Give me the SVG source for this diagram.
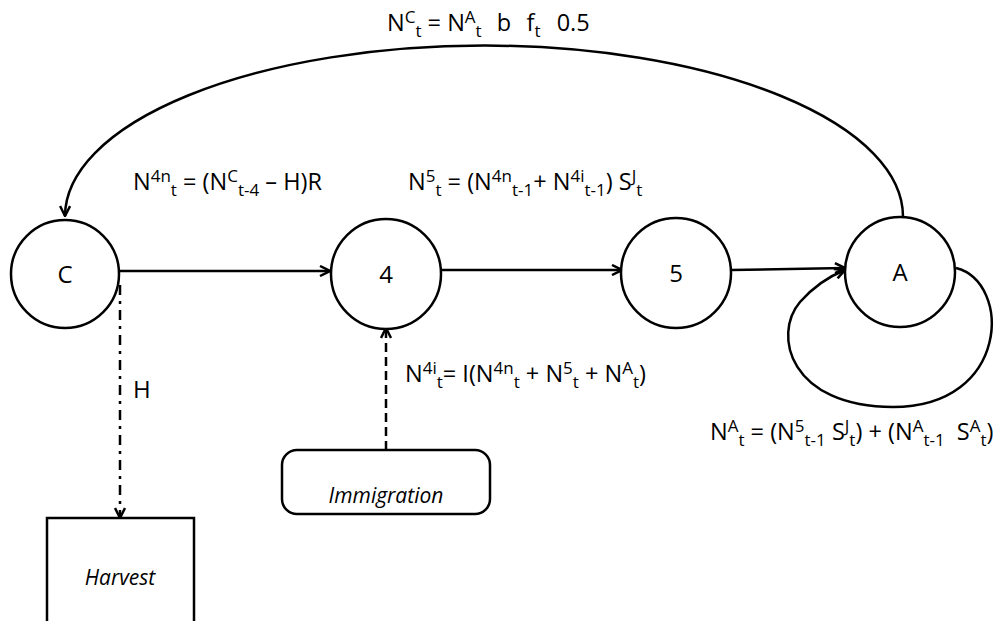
<svg xmlns="http://www.w3.org/2000/svg" width="997" height="621" viewBox="0 0 997 621">
<style>
  .node{fill:#fff;stroke:#000;stroke-width:2.5}
  .lbl{font-family:"Open Sans","Liberation Sans",sans-serif;font-size:23.5px;fill:#000;white-space:pre}
  .nl{font-size:24px}
  .bx{font-size:21px;font-style:italic}
  .sup{font-size:17px;baseline-shift:8px}
  .sub{font-size:17px;baseline-shift:-6px}
  .edge{fill:none;stroke:#000;stroke-width:2.5}
</style>
<defs>
  <marker id="arr" viewBox="0 0 12 12" refX="11" refY="6" markerWidth="12" markerHeight="12" markerUnits="userSpaceOnUse" orient="auto">
    <path d="M1,1 L11,6 L1,11" fill="none" stroke="#000" stroke-width="2.5"/>
  </marker>
</defs>
<rect width="997" height="621" fill="#fff"/>
<g id="connectors">
  <path class="edge" d="M120,271 L330,271" marker-end="url(#arr)"/>
  <path class="edge" d="M441,270 L622,270" marker-end="url(#arr)"/>
  <path class="edge" d="M731,270 L845,268" marker-end="url(#arr)"/>
  <path class="edge" d="M903,217 A419,171 0 0 0 65,216" marker-end="url(#arr)"/>
  <path class="edge" d="M956,268 C1012,282 1010,407 893,407 C790,407 772,335 800,302 C815,285 830,276 845,270" marker-end="url(#arr)"/>
  <path class="edge" d="M120,285 L120,518" stroke-dasharray="10,6,3,6" marker-end="url(#arr)"/>
  <path class="edge" d="M386,450 L386,328" stroke-dasharray="9,5" marker-end="url(#arr)"/>
  <text class="lbl nl" x="133" y="398">H</text>
</g>
<g id="node-C"><circle class="node" cx="65" cy="274" r="54"/><text class="lbl nl" x="65" y="283" text-anchor="middle">C</text></g>
<g id="node-4"><circle class="node" cx="386" cy="274" r="55"/><text class="lbl nl" x="386" y="283" text-anchor="middle">4</text></g>
<g id="node-5"><circle class="node" cx="676" cy="273" r="55"/><text class="lbl nl" x="676" y="282" text-anchor="middle">5</text></g>
<g id="node-A"><circle class="node" cx="900" cy="272" r="55"/><text class="lbl nl" x="900" y="281" text-anchor="middle">A</text></g>
<g id="node-harvest"><rect class="node" x="47" y="518" width="147" height="120"/><text class="lbl bx" x="120" y="585" text-anchor="middle">Harvest</text></g>
<g id="node-immigration"><rect class="node" x="282" y="450" width="208" height="64" rx="15"/><text class="lbl bx" x="386" y="503" text-anchor="middle">Immigration</text></g>
<g id="equations">
  <text class="lbl" x="387" y="31" xml:space="preserve">N<tspan class="sup">C</tspan><tspan class="sub">t</tspan> = N<tspan class="sup">A</tspan><tspan class="sub">t</tspan>  <tspan dx="3">b</tspan>  <tspan dx="3">f</tspan><tspan class="sub">t</tspan>  <tspan dx="4">0.5</tspan></text>
  <text class="lbl" x="133" y="190" xml:space="preserve">N<tspan class="sup">4n</tspan><tspan class="sub">t</tspan> = (N<tspan class="sup">C</tspan><tspan class="sub">t-4</tspan> – H)R</text>
  <text class="lbl" x="408" y="190" xml:space="preserve">N<tspan class="sup">5</tspan><tspan class="sub">t</tspan> = (N<tspan class="sup">4n</tspan><tspan class="sub">t-1</tspan>+ N<tspan class="sup">4i</tspan><tspan class="sub">t-1</tspan>) S<tspan class="sup">J</tspan><tspan class="sub">t</tspan></text>
  <text class="lbl" x="405" y="382" xml:space="preserve">N<tspan class="sup">4i</tspan><tspan class="sub">t</tspan>= I(N<tspan class="sup">4n</tspan><tspan class="sub">t</tspan> + N<tspan class="sup">5</tspan><tspan class="sub">t</tspan> + N<tspan class="sup">A</tspan><tspan class="sub">t</tspan>)</text>
  <text class="lbl" x="710" y="440" xml:space="preserve">N<tspan class="sup">A</tspan><tspan class="sub">t</tspan> = (N<tspan class="sup">5</tspan><tspan class="sub">t-1</tspan> S<tspan class="sup">J</tspan><tspan class="sub">t</tspan>) + (N<tspan class="sup">A</tspan><tspan class="sub">t-1</tspan>  S<tspan class="sup">A</tspan><tspan class="sub">t</tspan>)</text>
</g>
</svg>
